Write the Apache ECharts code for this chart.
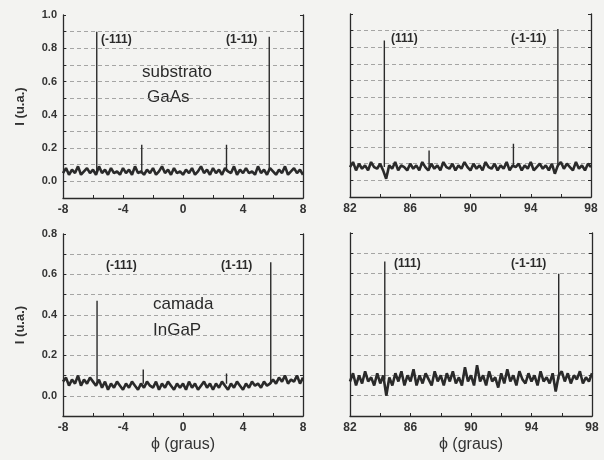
<!DOCTYPE html>
<html>
<head>
<meta charset="utf-8">
<script src="https://cdn.jsdelivr.net/npm/echarts@6/dist/echarts.min.js"></script>
<style>
  html, body { margin: 0; padding: 0; background: #f3f3f1; }
  #chart { width: 604px; height: 460px; }
</style>
</head>
<body>
<div id="chart"></div>
<script>
// phi grid (degrees) for the two columns
const phiLeft = [
  -8, -7.8, -7.6, -7.4, -7.2, -7, -6.8, -6.6, -6.4, -6.2,
  -6, -5.8, -5.6, -5.4, -5.2, -5, -4.8, -4.6, -4.4, -4.2,
  -4, -3.8, -3.6, -3.4, -3.2, -3, -2.8, -2.6, -2.4, -2.2,
  -2, -1.8, -1.6, -1.4, -1.2, -1, -0.8, -0.6, -0.4, -0.2,
  0,
  0.2, 0.4, 0.6, 0.8, 1, 1.2, 1.4, 1.6, 1.8, 2,
  2.2, 2.4, 2.6, 2.8, 3, 3.2, 3.4, 3.6, 3.8, 4,
  4.2, 4.4, 4.6, 4.8, 5, 5.2, 5.4, 5.6, 5.8, 6,
  6.2, 6.4, 6.6, 6.8, 7, 7.2, 7.4, 7.6, 7.8, 8,
];
const phiRight = [
  82, 82.2, 82.4, 82.6, 82.8, 83, 83.2, 83.4, 83.6, 83.8,
  84, 84.2, 84.4, 84.6, 84.8, 85, 85.2, 85.4, 85.6, 85.8,
  86, 86.2, 86.4, 86.6, 86.8, 87, 87.2, 87.4, 87.6, 87.8,
  88, 88.2, 88.4, 88.6, 88.8, 89, 89.2, 89.4, 89.6, 89.8,
  90,
  90.2, 90.4, 90.6, 90.8, 91, 91.2, 91.4, 91.6, 91.8, 92,
  92.2, 92.4, 92.6, 92.8, 93, 93.2, 93.4, 93.6, 93.8, 94,
  94.2, 94.4, 94.6, 94.8, 95, 95.2, 95.4, 95.6, 95.8, 96,
  96.2, 96.4, 96.6, 96.8, 97, 97.2, 97.4, 97.6, 97.8, 98,
];

// background intensity (u.a.)
const gaasLeft = [
  0.05, 0.08, 0.04, 0.07, 0.05, 0.09, 0.04, 0.06, 0.08, 0.05,
  0.07, 0.04, 0.09, 0.05, 0.07, 0.04, 0.08, 0.05, 0.06, 0.04,
  0.08, 0.05, 0.07, 0.04, 0.09, 0.05, 0.06, 0.04, 0.07, 0.05,
  0.08, 0.04, 0.06, 0.09, 0.05, 0.07, 0.04, 0.08, 0.05, 0.06,
  0.04,
  0.07, 0.05, 0.08, 0.04, 0.06, 0.09, 0.05, 0.07, 0.04, 0.08,
  0.05, 0.07, 0.04, 0.08, 0.06, 0.05, 0.09, 0.04, 0.07, 0.05,
  0.08, 0.05, 0.06, 0.04, 0.09, 0.05, 0.07, 0.04, 0.08, 0.06,
  0.04, 0.07, 0.05, 0.09, 0.04, 0.06, 0.08, 0.05, 0.07, 0.04,
];
const gaasRight = [
  0.08, 0.11, 0.06, 0.10, 0.07, 0.09, 0.06, 0.11, 0.08, 0.07,
  0.10, 0.06, 0.01, 0.09, 0.07, 0.11, 0.06, 0.09, 0.08, 0.06,
  0.10, 0.07, 0.09, 0.06, 0.11, 0.08, 0.06, 0.10, 0.07, 0.09,
  0.06, 0.11, 0.08, 0.07, 0.10, 0.06, 0.09, 0.07, 0.11, 0.08,
  0.06,
  0.10, 0.07, 0.09, 0.06, 0.11, 0.08, 0.07, 0.10, 0.06, 0.09,
  0.07, 0.11, 0.06, 0.09, 0.08, 0.10, 0.06, 0.09, 0.07, 0.11,
  0.06, 0.08, 0.10, 0.07, 0.09, 0.06, 0.10, 0.04, 0.09, 0.11,
  0.07, 0.10, 0.08, 0.06, 0.11, 0.07, 0.09, 0.06, 0.10, 0.08,
];
const ingapLeft = [
  0.07, 0.09, 0.05, 0.08, 0.06, 0.10, 0.05, 0.08, 0.06, 0.09,
  0.07, 0.05, 0.08, 0.04, 0.07, 0.03, 0.06, 0.04, 0.07, 0.05,
  0.03, 0.06, 0.04, 0.07, 0.05, 0.03, 0.06, 0.04, 0.07, 0.05,
  0.04, 0.07, 0.03, 0.06, 0.04, 0.07, 0.05, 0.03, 0.06, 0.04,
  0.06,
  0.03, 0.07, 0.04, 0.06, 0.03, 0.05, 0.07, 0.04, 0.06, 0.03,
  0.06, 0.04, 0.07, 0.05, 0.03, 0.06, 0.04, 0.07, 0.05, 0.03,
  0.06, 0.04, 0.07, 0.05, 0.06, 0.04, 0.07, 0.05, 0.06, 0.08,
  0.06, 0.09, 0.07, 0.10, 0.06, 0.08, 0.07, 0.10, 0.06, 0.09,
];
const ingapRight = [
  0.07, 0.11, 0.05, 0.10, 0.06, 0.12, 0.07, 0.09, 0.05, 0.11,
  0.06, 0.10, 0.00, 0.09, 0.05, 0.11, 0.07, 0.12, 0.05, 0.10,
  0.07, 0.13, 0.05, 0.10, 0.06, 0.11, 0.08, 0.05, 0.12, 0.07,
  0.10, 0.05, 0.11, 0.07, 0.12, 0.06, 0.09, 0.05, 0.14, 0.07,
  0.10,
  0.05, 0.15, 0.07, 0.10, 0.05, 0.12, 0.07, 0.09, 0.04, 0.11,
  0.06, 0.13, 0.07, 0.10, 0.05, 0.12, 0.08, 0.06, 0.11, 0.07,
  0.10, 0.05, 0.12, 0.07, 0.09, 0.06, 0.11, 0.02, 0.10, 0.12,
  0.07, 0.11, 0.06, 0.10, 0.08, 0.12, 0.06, 0.09, 0.07, 0.11,
];

// reflections: position, height, foot level
const gaasLeftPeakPhi = [-5.75, -2.75, 2.9, 5.75];
const gaasLeftPeakI = [0.9, 0.22, 0.22, 0.87];
const gaasRightPeakPhi = [84.28, 87.25, 92.85, 95.8];
const gaasRightPeakI = [0.84, 0.18, 0.22, 0.91];
const ingapLeftPeakPhi = [-5.73, -2.65, 2.9, 5.85];
const ingapLeftPeakI = [0.47, 0.13, 0.11, 0.66];
const ingapRightPeakPhi = [84.3, 95.8];
const ingapRightPeakI = [0.66, 0.6];
const peakFoot = [0.06, 0.08, 0.06, 0.08];

const leftTicks = [-8, -4, 0, 4, 8];
const rightTicks = [82, 86, 90, 94, 98];

const INK = "#2a2a2a";
const FONT = "Liberation Sans, Arial, sans-serif";

function pairs(xs, ys) {
  return xs.map((x, i) => [x, ys[i]]);
}
function spikes(xs, hs, foot) {
  const out = [];
  xs.forEach((x, i) => {
    out.push([x, foot], [x, hs[i]], [x, foot], [x, "-"]);
  });
  return out;
}

function xAxisFor(gridIndex, min, max, ticks, withName) {
  return {
    type: "value",
    gridIndex,
    min,
    max,
    interval: 2,
    axisLine: { onZero: false, lineStyle: { color: INK, width: 1.3 } },
    axisTick: { inside: true, length: 3, lineStyle: { color: INK } },
    splitLine: { show: false },
    axisLabel: {
      color: "#333",
      fontFamily: FONT,
      fontWeight: "bold",
      fontSize: 12,
      margin: 6,
      formatter: (v) => (ticks.includes(v) ? String(v) : ""),
    },
    name: withName ? "\u03d5 (graus)" : "",
    nameLocation: "middle",
    nameGap: 21,
    nameTextStyle: { color: "#333", fontFamily: FONT, fontSize: 16 },
  };
}

function yAxisFor(gridIndex, max, side, labels) {
  return {
    type: "value",
    gridIndex,
    position: side,
    min: -0.1,
    max,
    interval: 0.1,
    axisLine: { show: true, onZero: false, lineStyle: { color: INK, width: 1.3 } },
    axisTick: { show: true, inside: true, length: 3, lineStyle: { color: INK } },
    axisLabel: {
      show: labels,
      color: "#333",
      fontFamily: FONT,
      fontWeight: "bold",
      fontSize: 11,
      margin: 6,
      formatter: (v) => {
        const k = Math.round(v * 10);
        return k >= 0 && k % 2 === 0 ? (k / 10).toFixed(1) : "";
      },
    },
    splitLine: {
      show: side === "left",
      showMinLine: false,
      showMaxLine: false,
      lineStyle: { color: "#909090", type: [4, 3], width: 0.8 },
    },
    name: labels ? "I (u.a.)" : "",
    nameLocation: "middle",
    nameGap: 36,
    nameTextStyle: { color: "#333", fontFamily: FONT, fontWeight: "bold", fontSize: 13 },
  };
}

function trace(xi, yi, data, width) {
  return {
    type: "line",
    xAxisIndex: xi,
    yAxisIndex: yi,
    data,
    showSymbol: false,
    symbol: "none",
    animation: false,
    lineStyle: { color: INK, width },
  };
}

function note(text, left, top, size, bold) {
  return {
    type: "text",
    left,
    top,
    style: {
      text,
      fill: "#2a2a2a",
      font: (bold ? "bold " : "") + size + "px " + FONT,
    },
  };
}

const chart = echarts.init(document.getElementById("chart"));
chart.setOption({
  backgroundColor: "#f3f3f1",
  animation: false,
  grid: [
    { left: 63, top: 15, width: 240, height: 183 },
    { left: 350, top: 14, width: 241, height: 183 },
    { left: 63, top: 234, width: 240, height: 182 },
    { left: 350, top: 233, width: 242, height: 183 },
  ],
  xAxis: [
    xAxisFor(0, -8, 8, leftTicks, false),
    xAxisFor(1, 82, 98, rightTicks, false),
    xAxisFor(2, -8, 8, leftTicks, true),
    xAxisFor(3, 82, 98, rightTicks, true),
  ],
  yAxis: [
    yAxisFor(0, 1.0, "left", true),
    yAxisFor(0, 1.0, "right", false),
    yAxisFor(1, 1.0, "left", false),
    yAxisFor(1, 1.0, "right", false),
    yAxisFor(2, 0.8, "left", true),
    yAxisFor(2, 0.8, "right", false),
    yAxisFor(3, 0.8, "left", false),
    yAxisFor(3, 0.8, "right", false),
  ],
  series: [
    trace(0, 0, pairs(phiLeft, gaasLeft), 2.6),
    trace(0, 0, spikes(gaasLeftPeakPhi, gaasLeftPeakI, peakFoot[0]), 1.4),
    trace(1, 2, pairs(phiRight, gaasRight), 2.6),
    trace(1, 2, spikes(gaasRightPeakPhi, gaasRightPeakI, peakFoot[1]), 1.4),
    trace(2, 4, pairs(phiLeft, ingapLeft), 2.6),
    trace(2, 4, spikes(ingapLeftPeakPhi, ingapLeftPeakI, peakFoot[2]), 1.4),
    trace(3, 6, pairs(phiRight, ingapRight), 2.6),
    trace(3, 6, spikes(ingapRightPeakPhi, ingapRightPeakI, peakFoot[3]), 1.4),
  ],
  graphic: [
    note("(-111)", 101, 34, 12, true),
    note("(1-11)", 226, 34, 12, true),
    note("substrato", 142, 64, 17, false),
    note("GaAs", 147, 89, 17, false),
    note("(111)", 391, 33, 12, true),
    note("(-1-11)", 511, 33, 12, true),
    note("(-111)", 106, 260, 12, true),
    note("(1-11)", 221, 260, 12, true),
    note("camada", 153, 296, 17, false),
    note("InGaP", 153, 322, 17, false),
    note("(111)", 394, 258, 12, true),
    note("(-1-11)", 511, 258, 12, true),
  ],
});
</script>
</body>
</html>
